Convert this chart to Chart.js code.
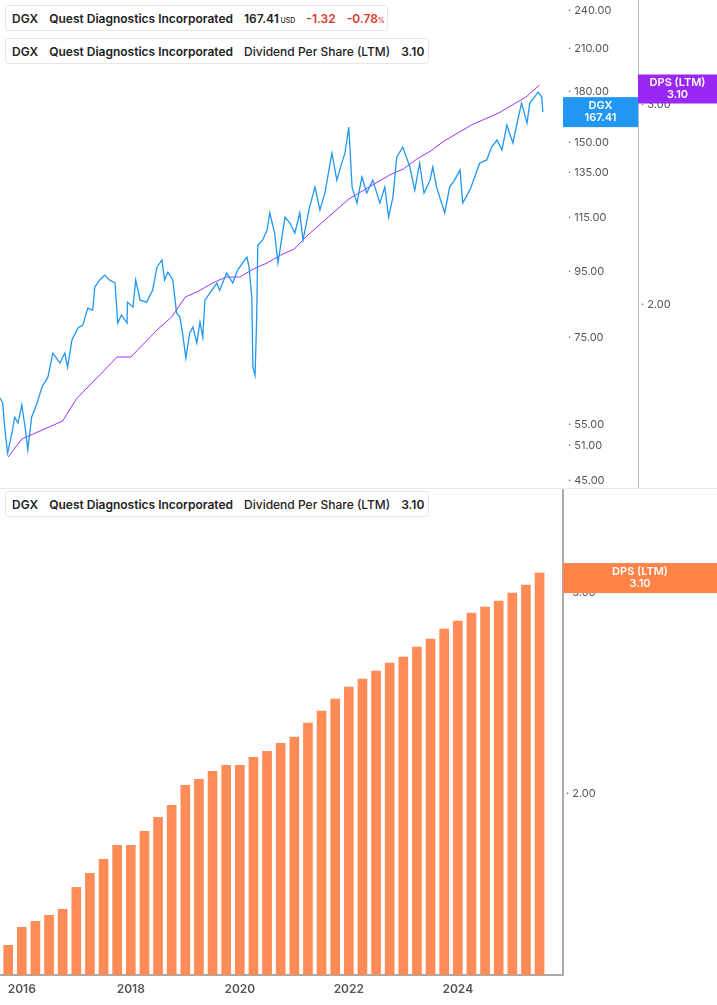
<!DOCTYPE html>
<html><head><meta charset="utf-8">
<script src="https://cdn.jsdelivr.net/npm/chart.js@4"></script>
<style>
body{margin:0;width:717px;height:1005px;background:#fff;font-family:Inter,Roboto,sans-serif;overflow:hidden;position:relative}
canvas{position:absolute;left:0}
.lg{position:absolute;left:5px;height:26px;background:#fff;border:1px solid #e6e6e6;border-radius:3px;font-size:12px;font-weight:600;color:#222;display:flex;align-items:center;white-space:nowrap;z-index:2;box-sizing:border-box;padding-right:12px}
.lg .bar{width:3px;height:26px;border-radius:2px;margin-right:6px}
.lg span{margin-right:11px}
.sep{position:absolute;left:0;top:488px;width:717px;height:1px;background:#e8e8e8}
</style></head><body>
<canvas id="top" width="717" height="488" style="top:0;width:717px;height:488px"></canvas>
<div class="sep"></div>
<canvas id="bot" width="717" height="517" style="top:488px;width:717px;height:517px"></canvas>
<div class="lg" style="top:5px;width:383px"><div class="bar" style="background:#2196F3"></div><span>DGX</span><span>Quest Diagnostics Incorporated</span><span>167.41<small style="font-size:7px;font-weight:500"> USD</small></span><span style="color:#e0342a">-1.32</span><span style="color:#e0342a;margin-right:0">-0.78<small style="font-size:7px">%</small></span></div>
<div class="lg" style="top:38px;width:424px"><div class="bar" style="background:#8f1cf5"></div><span>DGX</span><span>Quest Diagnostics Incorporated</span><span style="font-weight:500">Dividend Per Share (LTM)</span><span>3.10</span></div>
<div class="lg" style="top:491px;width:424px"><div class="bar" style="background:#ff8a50"></div><span>DGX</span><span>Quest Diagnostics Incorporated</span><span style="font-weight:500">Dividend Per Share (LTM)</span><span>3.10</span></div>
<script>
const priceDates=[2015.60,2015.65,2015.69,2015.74,2015.82,2015.87,2015.93,2016.00,2016.06,2016.11,2016.18,2016.28,2016.37,2016.48,2016.57,2016.70,2016.79,2016.84,2016.92,2017.03,2017.12,2017.21,2017.30,2017.34,2017.43,2017.52,2017.61,2017.71,2017.76,2017.83,2017.93,2017.94,2018.04,2018.09,2018.17,2018.29,2018.40,2018.48,2018.57,2018.62,2018.68,2018.77,2018.84,2018.90,2018.95,2019.01,2019.08,2019.14,2019.21,2019.27,2019.32,2019.36,2019.45,2019.58,2019.63,2019.76,2019.87,2019.96,2020.13,2020.17,2020.22,2020.24,2020.28,2020.31,2020.33,2020.42,2020.50,2020.55,2020.64,2020.70,2020.83,2020.92,2021.01,2021.10,2021.16,2021.28,2021.38,2021.47,2021.56,2021.69,2021.78,2021.87,2021.93,2022.00,2022.06,2022.15,2022.24,2022.33,2022.44,2022.57,2022.66,2022.73,2022.81,2022.88,2022.99,2023.12,2023.21,2023.30,2023.38,2023.49,2023.54,2023.61,2023.76,2023.85,2023.94,2024.04,2024.09,2024.22,2024.31,2024.40,2024.53,2024.62,2024.72,2024.81,2024.90,2025.01,2025.10,2025.17,2025.27,2025.32,2025.41,2025.47,2025.54,2025.56];
const priceValues=[60.5,59.4,54.0,49.7,53.4,56.5,55.3,59.0,54.5,50.3,56.5,59.4,62.9,65.2,71.0,68.5,71.0,67.5,74.4,77.6,78.4,83.3,82.7,89.8,92.1,93.7,92.1,91.1,79.0,81.3,79.0,85.1,83.6,92.1,85.7,85.1,88.8,96.4,98.9,92.1,94.7,92.1,81.9,80.7,76.2,69.7,76.2,77.9,73.6,79.3,75.1,85.7,87.9,91.1,88.8,94.4,91.1,95.4,99.9,96.4,86.7,67.5,65.6,80.7,104.3,106.2,110.0,116.9,108.8,97.8,115.2,112.8,108.8,116.9,106.2,119.4,128.2,118.1,125.5,144.7,131.4,139.6,144.7,158.8,128.2,121.1,132.9,125.5,131.4,121.1,128.2,115.2,123.7,142.7,147.8,137.7,126.8,139.6,125.5,131.4,137.7,128.2,116.9,128.2,131.4,136.2,121.1,126.8,132.9,139.6,141.2,147.8,151.6,146.3,159.9,150.0,162.8,172.9,161.0,172.9,176.7,179.8,176.7,167.4];
const dpsDates=[2015.75,2016.00,2016.25,2016.50,2016.75,2017.00,2017.25,2017.50,2017.75,2018.00,2018.25,2018.50,2018.75,2019.00,2019.25,2019.50,2019.75,2020.00,2020.25,2020.50,2020.75,2021.00,2021.25,2021.50,2021.75,2022.00,2022.25,2022.50,2022.75,2023.00,2023.25,2023.50,2023.75,2024.00,2024.25,2024.50,2024.75,2025.00,2025.25,2025.50];
const dpsValues=[1.24,1.33,1.36,1.39,1.42,1.53,1.60,1.67,1.74,1.74,1.81,1.88,1.94,2.04,2.07,2.11,2.14,2.14,2.18,2.21,2.25,2.28,2.35,2.41,2.47,2.53,2.57,2.61,2.65,2.68,2.73,2.77,2.82,2.86,2.90,2.93,2.96,3.00,3.04,3.10];
const xTickYears=[2016,2018,2020,2022,2024];
const priceTicks=[45,51,55,75,95,115,135,150,180,210,240];
const dpsTopTicks=[2,3];
const lastPrice=167.41, lastDps=3.10;

const XMIN=2015.6, XMAX=2025.93;
const tickFont={family:'Inter, Roboto, sans-serif',size:11};
function fixW(w){return s=>{s.width=w;s.paddingTop=0;s.paddingBottom=0;};}
function badge(ctx,x1,x2,yc,h,col,lines){
  ctx.save();ctx.fillStyle=col;ctx.fillRect(x1,yc-h/2,x2-x1,h);
  ctx.fillStyle='#fff';ctx.font='600 11px Inter, Roboto, sans-serif';ctx.textAlign='center';ctx.textBaseline='middle';
  ctx.fillText(lines[0],(x1+x2)/2,yc-6);ctx.fillText(lines[1],(x1+x2)/2,yc+6);ctx.restore();
}
new Chart(document.getElementById('top'),{
  data:{datasets:[
    {type:'line',data:priceDates.map((d,i)=>({x:d,y:priceValues[i]})),yAxisID:'yP',borderColor:'#2196F3',borderWidth:1.3,pointRadius:0,tension:0},
    {type:'line',data:dpsDates.map((d,i)=>({x:d,y:dpsValues[i]})),yAxisID:'yD',borderColor:'#9B30FF',borderWidth:1,pointRadius:0,tension:0}
  ]},
  options:{responsive:false,animation:false,layout:{padding:0},plugins:{legend:{display:false},tooltip:{enabled:false}},
    scales:{
      x:{type:'linear',min:XMIN,max:XMAX,display:false},
      yP:{type:'logarithmic',position:'right',min:43.9,max:249.6,afterFit:fixW(75),
        afterBuildTicks:s=>{s.ticks=priceTicks.map(v=>({value:v}));},
        grid:{display:false,drawTicks:false},border:{display:false},
        ticks:{padding:5,color:'#555',font:tickFont,callback:v=>'· '+Number(v).toFixed(2)}},
      yD:{type:'linear',position:'right',min:1.085,max:3.525,afterFit:fixW(79),
        afterBuildTicks:s=>{s.ticks=dpsTopTicks.map(v=>({value:v}));},
        grid:{display:false,drawTicks:false},border:{display:true,color:'#bbb',width:1},
        ticks:{padding:3,color:'#555',font:tickFont,callback:v=>'· '+Number(v).toFixed(2)}}
    }},
  plugins:[{id:'b',afterDraw(c){const ctx=c.ctx;
    badge(ctx,563,638,c.scales.yP.getPixelForValue(lastPrice),30,'#2196F3',['DGX',lastPrice.toFixed(2)]);
    badge(ctx,638,717,c.scales.yD.getPixelForValue(lastDps)+4,29,'#9B27F5',['DPS (LTM)',lastDps.toFixed(2)]);}}]
});
new Chart(document.getElementById('bot'),{
  data:{datasets:[{type:'bar',data:dpsDates.map((d,i)=>({x:d,y:dpsValues[i]})),backgroundColor:'#FF8C57',barThickness:9}]},
  options:{responsive:false,animation:false,layout:{padding:{top:2}},plugins:{legend:{display:false},tooltip:{enabled:false}},
    scales:{
      x:{type:'linear',offset:false,min:XMIN,max:XMAX,afterFit:s=>{s.height=30;},
        afterBuildTicks:s=>{s.ticks=xTickYears.map(v=>({value:v}));},
        grid:{display:false,drawTicks:true,tickLength:4,color:'#999',offset:false},border:{display:true,color:'#aaa',width:2},
        ticks:{color:'#555',font:{family:'Inter, Roboto, sans-serif',size:12,weight:'600'},callback:v=>String(v),maxRotation:0}},
      y:{type:'linear',position:'right',min:1.092,max:3.515,afterFit:fixW(154),
        afterBuildTicks:s=>{s.ticks=dpsTopTicks.map(v=>({value:v}));},
        grid:{display:false,drawTicks:false},border:{display:true,color:'#aaa',width:2},
        ticks:{padding:3,color:'#555',font:tickFont,callback:v=>'· '+Number(v).toFixed(2)}}
    }},
  plugins:[{id:'b2',afterDraw(c){badge(c.ctx,563,717,c.scales.y.getPixelForValue(lastDps)+5,30,'#FF8346',['DPS (LTM)',lastDps.toFixed(2)]);}}]
});
</script></body></html>
